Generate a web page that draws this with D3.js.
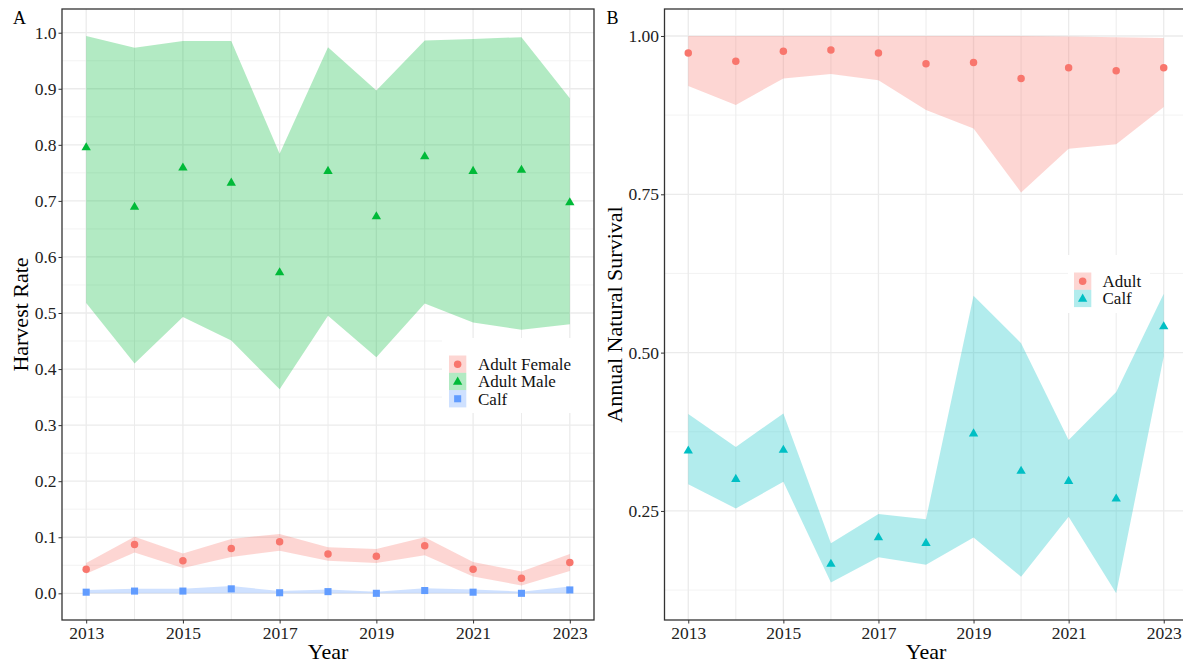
<!DOCTYPE html>
<html>
<head>
<meta charset="utf-8">
<script src="https://cdn.jsdelivr.net/npm/d3@7"></script>
<style>
  html, body { margin: 0; padding: 0; background: #fff; }
  svg { display: block; }
  svg text { font-family: "Liberation Serif", "Times New Roman", serif; }
</style>
</head>
<body>
<svg id="chart" width="1183" height="664"></svg>
<script>
// ---- data ----
const years = [2013, 2014, 2015, 2016, 2017, 2018, 2019, 2020, 2021, 2022, 2023];

// Panel A: harvest rate estimates with credible intervals
const femaleHarvest      = [0.043, 0.087, 0.058, 0.080, 0.092, 0.070, 0.066, 0.085, 0.043, 0.027, 0.055];
const femaleHarvestLow   = [0.035, 0.073, 0.045, 0.065, 0.076, 0.058, 0.054, 0.068, 0.030, 0.014, 0.040];
const femaleHarvestHigh  = [0.054, 0.101, 0.071, 0.097, 0.106, 0.082, 0.079, 0.100, 0.056, 0.039, 0.070];
const maleHarvest        = [0.795, 0.689, 0.759, 0.732, 0.572, 0.753, 0.672, 0.779, 0.753, 0.755, 0.697];
const maleHarvestLow     = [0.518, 0.410, 0.493, 0.451, 0.364, 0.495, 0.421, 0.517, 0.483, 0.470, 0.480];
const maleHarvestHigh    = [0.994, 0.973, 0.985, 0.985, 0.784, 0.974, 0.897, 0.986, 0.989, 0.992, 0.883];
const calfHarvest        = [0.002, 0.004, 0.004, 0.008, 0.001, 0.003, 0.000, 0.005, 0.002, 0.000, 0.006];
const calfHarvestLow     = [0.000, 0.000, 0.000, 0.000, 0.000, 0.000, 0.000, 0.000, 0.000, 0.000, 0.000];
const calfHarvestHigh    = [0.006, 0.008, 0.008, 0.013, 0.004, 0.007, 0.003, 0.009, 0.007, 0.003, 0.012];

// Panel B: annual natural survival estimates with credible intervals
const adultSurvival      = [0.973, 0.960, 0.976, 0.978, 0.973, 0.956, 0.958, 0.933, 0.950, 0.945, 0.950];
const adultSurvivalLow   = [0.921, 0.891, 0.933, 0.940, 0.930, 0.883, 0.854, 0.753, 0.822, 0.829, 0.888];
const adultSurvivalHigh  = [1.000, 1.000, 1.000, 1.000, 1.000, 1.000, 1.000, 1.000, 0.999, 0.998, 0.997];
const calfSurvival       = [0.345, 0.300, 0.346, 0.166, 0.208, 0.199, 0.372, 0.313, 0.297, 0.269, 0.541];
const calfSurvivalLow    = [0.292, 0.254, 0.296, 0.137, 0.177, 0.165, 0.208, 0.146, 0.241, 0.120, 0.494];
const calfSurvivalHigh   = [0.403, 0.351, 0.404, 0.199, 0.245, 0.237, 0.590, 0.515, 0.362, 0.438, 0.593];

const xTicks = [2013, 2015, 2017, 2019, 2021, 2023];
const harvestTicks = [0, 0.1, 0.2, 0.3, 0.4, 0.5, 0.6, 0.7, 0.8, 0.9, 1.0];
const survivalTicks = [0.25, 0.50, 0.75, 1.00];

// ---- palette ----
const RED = "#F8766D", GREEN = "#00BA38", BLUE = "#619CFF", CYAN = "#00BFC4";
const BAND_ALPHA = 0.3;
const SERIF = '"Liberation Serif", "Times New Roman", serif';

const svg = d3.select("#chart");

function series(name, color, shape, val, lo, hi) {
  return { name, color, shape, rows: years.map((y, i) => ({ year: y, v: val[i], lo: lo[i], hi: hi[i] })) };
}

const harvestSeries = [
  series("Adult Female", RED, d3.symbolCircle, femaleHarvest, femaleHarvestLow, femaleHarvestHigh),
  series("Adult Male", GREEN, d3.symbolTriangle, maleHarvest, maleHarvestLow, maleHarvestHigh),
  series("Calf", BLUE, d3.symbolSquare, calfHarvest, calfHarvestLow, calfHarvestHigh)
];
const survivalSeries = [
  series("Adult", RED, d3.symbolCircle, adultSurvival, adultSurvivalLow, adultSurvivalHigh),
  series("Calf", CYAN, d3.symbolTriangle, calfSurvival, calfSurvivalLow, calfSurvivalHigh)
];

function symbolSize(shape) {
  if (shape === d3.symbolTriangle) return 38;
  if (shape === d3.symbolSquare) return 50;
  return 44;
}

function drawPanel(opt) {
  const { x0, x1, y0, y1, yDomain, yMajor, yMinor, yFmt, seriesList, tag, tagX, yTitle, yTitleX, legend } = opt;
  const x = d3.scaleLinear().domain([2012.5, 2023.5]).range([x0, x1]);
  const y = d3.scaleLinear().domain(yDomain).range([y1, y0]);
  const g = svg.append("g").attr("font-family", SERIF);

  const clipId = "clip-" + tag;
  svg.append("clipPath").attr("id", clipId)
    .append("rect").attr("x", x0).attr("y", y0).attr("width", x1 - x0).attr("height", y1 - y0);
  const plot = g.append("g").attr("clip-path", `url(#${clipId})`);

  // grid: minor then major
  const allYears = d3.range(2013, 2024);
  plot.selectAll(".gy-minor").data(yMinor).join("line")
    .attr("x1", x0).attr("x2", x1).attr("y1", d => y(d)).attr("y2", d => y(d))
    .attr("stroke", "#f0f0f0").attr("stroke-width", 0.8);
  plot.selectAll(".gx-minor").data(allYears.filter(d => !xTicks.includes(d))).join("line")
    .attr("y1", y0).attr("y2", y1).attr("x1", d => x(d)).attr("x2", d => x(d))
    .attr("stroke", "#ececec").attr("stroke-width", 1);
  plot.selectAll(".gy-major").data(yMajor).join("line")
    .attr("x1", x0).attr("x2", x1).attr("y1", d => y(d)).attr("y2", d => y(d))
    .attr("stroke", "#ebebeb").attr("stroke-width", 1.3);
  plot.selectAll(".gx-major").data(xTicks).join("line")
    .attr("y1", y0).attr("y2", y1).attr("x1", d => x(d)).attr("x2", d => x(d))
    .attr("stroke", "#ebebeb").attr("stroke-width", 1.3);

  // ribbons
  const area = d3.area().x(d => x(d.year)).y0(d => y(d.lo)).y1(d => y(d.hi));
  seriesList.forEach(s => {
    plot.append("path").datum(s.rows).attr("d", area)
      .attr("fill", s.color).attr("fill-opacity", BAND_ALPHA);
  });

  // legend (over the grid and ribbons, under the points)
  const lg = g.append("g");
  lg.append("rect").attr("x", legend.bx).attr("y", legend.by).attr("width", legend.bw).attr("height", legend.bh)
    .attr("fill", "#fff");
  seriesList.forEach((s, i) => {
    const ky = legend.ky + i * legend.kh;
    lg.append("rect").attr("x", legend.kx).attr("y", ky).attr("width", legend.kh).attr("height", legend.kh)
      .attr("fill", s.color).attr("fill-opacity", BAND_ALPHA);
    lg.append("path").attr("d", d3.symbol(s.shape, symbolSize(s.shape))())
      .attr("transform", `translate(${legend.kx + legend.kh / 2},${ky + legend.kh / 2 + (s.shape === d3.symbolTriangle ? 0.5 : 0)})`)
      .attr("fill", s.color);
    lg.append("text").attr("x", legend.tx).attr("y", ky + legend.kh / 2 + 6)
      .attr("font-size", 17).attr("fill", "#111").text(s.name);
  });

  // points
  seriesList.forEach(s => {
    plot.selectAll(null).data(s.rows).join("path")
      .attr("d", d3.symbol(s.shape, symbolSize(s.shape)))
      .attr("transform", d => `translate(${x(d.year)},${y(d.v)})`)
      .attr("fill", s.color);
  });

  // border
  g.append("rect").attr("x", x0).attr("y", y0).attr("width", x1 - x0).attr("height", y1 - y0)
    .attr("fill", "none").attr("stroke", "#333").attr("stroke-width", 1.3);

  // axes
  const ya = g.append("g").attr("transform", `translate(${x0},0)`)
    .call(d3.axisLeft(y).tickValues(yMajor).tickFormat(d3.format(yFmt)).tickSize(3.5).tickPadding(2));
  ya.attr("font-family", SERIF).attr("font-size", 17.5);
  ya.select(".domain").remove();
  ya.selectAll("line").attr("stroke", "#333");
  ya.selectAll("text").attr("fill", "#222");

  const xa = g.append("g").attr("transform", `translate(0,${y1})`)
    .call(d3.axisBottom(x).tickValues(xTicks).tickFormat(d3.format("d")).tickSize(3.5).tickPadding(3));
  xa.attr("font-family", SERIF).attr("font-size", 17.5);
  xa.select(".domain").remove();
  xa.selectAll("line").attr("stroke", "#333");
  xa.selectAll("text").attr("fill", "#222");

  // titles
  g.append("text").attr("x", (x0 + x1) / 2).attr("y", 659).attr("text-anchor", "middle")
    .attr("font-size", 22).attr("fill", "#000").text("Year");
  g.append("text").attr("transform", `translate(${yTitleX},${(y0 + y1) / 2}) rotate(-90)`)
    .attr("text-anchor", "middle").attr("font-size", 22).attr("fill", "#000").text(yTitle);
  g.append("text").attr("x", tagX).attr("y", 24).attr("font-size", 18).attr("fill", "#000").text(tag);
}

drawPanel({
  x0: 62, x1: 594, y0: 9, y1: 620,
  yDomain: [-0.0476, 1.0423],
  yMajor: harvestTicks,
  yMinor: d3.range(0.05, 1.0, 0.1).map(d => +d.toFixed(2)),
  yFmt: ".1f",
  seriesList: harvestSeries,
  tag: "A", tagX: 13,
  yTitle: "Harvest Rate", yTitleX: 27.5,
  legend: { bx: 442, by: 338, bw: 152, bh: 75, kx: 449, ky: 355.5, kh: 17.3, tx: 478 }
});

drawPanel({
  x0: 664.5, x1: 1187.5, y0: 9, y1: 620,
  yDomain: [0.0778, 1.0426],
  yMajor: survivalTicks,
  yMinor: [0.125, 0.375, 0.625, 0.875],
  yFmt: ".2f",
  seriesList: survivalSeries,
  tag: "B", tagX: 606.5,
  yTitle: "Annual Natural Survival", yTitleX: 621.5,
  legend: { bx: 1068, by: 255, bw: 82, bh: 58, kx: 1074, ky: 272.5, kh: 17.3, tx: 1102.5 }
});
</script>
</body>
</html>
